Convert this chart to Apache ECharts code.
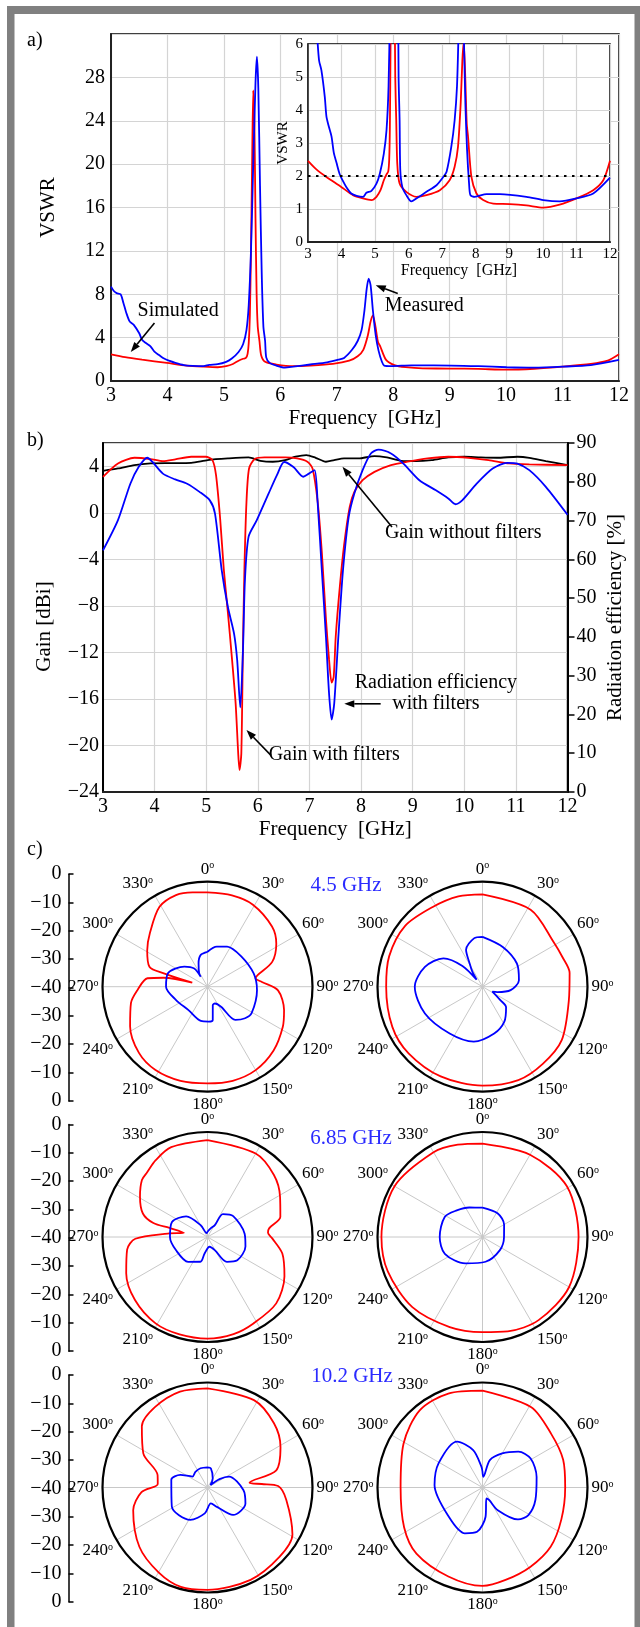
<!DOCTYPE html>
<html><head><meta charset="utf-8">
<script src="https://cdn.jsdelivr.net/npm/echarts@6.0.0/dist/echarts.min.js"></script>
<style>html,body{margin:0;padding:0;background:#fff}#c{width:640px;height:1627px}</style>
</head><body><div id="c"></div>
<script>
// ---------- a) VSWR ----------
const vswrMeasured = [[3.0,8.7],[3.05,8.3],[3.1,8.1],[3.17,8.0],[3.22,7.2],[3.27,6.3],[3.33,5.5],[3.4,5.2],[3.5,4.4],[3.55,3.8],[3.62,3.5],[3.7,3.2],[3.77,2.7],[3.85,2.4],[3.94,2.07],[4.04,1.85],[4.14,1.67],[4.29,1.47],[4.45,1.4],[4.64,1.37],[4.74,1.49],[4.89,1.55],[5.04,1.77],[5.14,2.07],[5.26,2.68],[5.34,3.39],[5.40,4.7],[5.44,7],[5.48,12],[5.52,20],[5.56,27.5],[5.585,29.9],[5.61,27],[5.64,18],[5.67,10],[5.70,5],[5.73,3.69],[5.75,2.18],[5.81,1.67],[5.93,1.42],[6.08,1.23],[6.23,1.32],[6.53,1.52],[6.83,1.72],[7.03,1.97],[7.13,2.13],[7.27,2.88],[7.37,3.69],[7.44,4.71],[7.49,6.5],[7.53,8.5],[7.565,9.45],[7.6,8.8],[7.64,6.5],[7.69,4.2],[7.74,2.8],[7.8,1.77],[7.84,1.42],[7.97,1.37],[8.32,1.45],[8.72,1.45],[9.51,1.37],[10.01,1.27],[10.5,1.23],[11.0,1.32],[11.5,1.47],[12.0,1.95]];
const vswrSimulated = [[3.0,2.46],[3.25,2.2],[3.55,1.97],[3.99,1.67],[4.34,1.42],[4.64,1.32],[4.89,1.27],[5.04,1.37],[5.16,1.57],[5.26,1.87],[5.34,2.05],[5.39,2.13],[5.42,2.5],[5.44,3.5],[5.46,6],[5.48,12],[5.5,20],[5.52,26.8],[5.54,24],[5.56,15],[5.58,8],[5.6,5],[5.63,3.69],[5.66,2.38],[5.73,1.77],[5.93,1.52],[6.23,1.37],[6.53,1.42],[6.93,1.57],[7.22,1.87],[7.37,2.28],[7.47,2.88],[7.55,4.2],[7.6,5.5],[7.64,6.05],[7.68,5.2],[7.73,3.6],[7.77,3.19],[7.87,1.97],[8.02,1.47],[8.22,1.27],[8.52,1.16],[9.01,1.15],[9.51,1.11],[10.01,1.04],[10.5,1.13],[11.0,1.32],[11.5,1.57],[11.8,1.87],[12.0,2.46]];
const vswrLimit = [[3,2],[12,2]];

// ---------- b) Gain / efficiency ----------
const gainWithFilters = [[3,3.09],[3.29,4.24],[3.61,4.73],[3.92,4.62],[4.16,4.44],[4.40,4.59],[4.71,4.82],[4.99,4.82],[5.12,4.53],[5.19,3.23],[5.27,-0.51],[5.34,-4.84],[5.42,-8.58],[5.50,-12.6],[5.57,-16.4],[5.62,-20.7],[5.645,-22.1],[5.68,-20.7],[5.71,-12.0],[5.74,-4.84],[5.78,0.93],[5.83,3.81],[5.94,4.62],[6.13,4.76],[6.53,4.76],[6.76,4.67],[6.96,4.39],[7.06,3.81],[7.16,0.93],[7.24,-3.4],[7.32,-9.16],[7.38,-12.6],[7.43,-14.6],[7.47,-14.1],[7.51,-10.6],[7.59,-6.28],[7.67,-2.82],[7.78,0.5],[7.87,1.79],[8.03,2.8],[8.26,3.52],[8.58,4.1],[8.90,4.39],[9.29,4.67],[9.69,4.82],[10.08,4.73],[10.47,4.53],[10.87,4.24],[11.26,4.16],[12,4.1]];
const gainWithoutFilters = [[3,3.61],[3.29,3.81],[3.61,4.1],[3.92,4.24],[4.32,4.27],[4.71,4.3],[5.03,4.53],[5.42,4.67],[5.82,4.76],[6.05,4.47],[6.29,4.39],[6.53,4.53],[6.73,4.82],[6.94,4.96],[7.12,4.73],[7.32,4.39],[7.48,4.53],[7.67,4.67],[7.95,4.67],[8.26,4.88],[8.5,4.76],[8.78,4.47],[9.05,4.44],[9.37,4.53],[9.69,4.76],[10.0,4.82],[10.32,4.76],[10.63,4.73],[11.03,4.82],[11.26,4.73],[11.58,4.44],[12,4.1]];
const efficiencyWithFilters = [[3.0,62.3],[3.29,70.1],[3.53,79.5],[3.69,83.8],[3.86,86.2],[3.96,85.1],[4.16,82.1],[4.40,80.6],[4.63,79.5],[4.87,77.4],[5.07,75.2],[5.17,71.8],[5.30,57.2],[5.42,47.7],[5.54,40.8],[5.60,34.0],[5.66,21.8],[5.71,35.7],[5.75,54.6],[5.82,65.8],[5.98,70.1],[6.21,77.0],[6.37,81.7],[6.51,85.1],[6.69,83.8],[6.88,81.3],[6.99,82.1],[7.10,83.0],[7.16,74.4],[7.24,57.2],[7.32,40.0],[7.38,25.4],[7.43,18.7],[7.48,22.8],[7.56,40.0],[7.65,57.2],[7.76,70.9],[7.87,77.0],[8.03,83.0],[8.19,87.3],[8.34,88.3],[8.58,87.3],[8.82,84.7],[9.13,80.4],[9.45,77.8],[9.69,75.7],[9.83,74.2],[9.96,75.2],[10.24,79.5],[10.55,83.4],[10.83,84.9],[11.03,84.7],[11.26,83.0],[11.58,78.7],[12,71.5]];

// ---------- c) Radiation patterns: [angle deg, level dB] ----------
const pattern45_left_red = [[0,-4.1],[15,-4.0],[29,-4.3],[47,-6.4],[58,-9.1],[69,-13.6],[77,-20.4],[80,-21.4],[85,-19.2],[93,-13.1],[107,-9.5],[118,-7.5],[134,-5.0],[150,-3.3],[165,-2.9],[180,-3.2],[196,-2.7],[212,-2.6],[226,-3.7],[243,-6.9],[258,-10.2],[267,-13.2],[278,-16.9],[281.6,-23],[284.8,-34],[287,-22.6],[289,-16.6],[301,-13.2],[313,-10],[329,-4.5],[341,-3.1],[351,-3.6],[360,-4.1]];
const pattern45_left_blue = [[0,-26.7],[13,-24.3],[26,-23],[48,-22.7],[74,-21.7],[94,-21.1],[121,-20.4],[130,-21.3],[140,-23.5],[146,-30.8],[156,-33],[164,-32.7],[171,-27.2],[178,-26.7],[191,-26.7],[219,-28.5],[247,-27],[270,-24.2],[289,-24.1],[311,-28.3],[324,-31.4],[326,-35.4],[328,-34],[339,-30.5],[348,-27.6],[360,-26.7]];
const pattern45_right_red = [[0,-4.8],[32,-5.4],[58,-8.0],[70,-7.5],[81,-6.4],[99,-6.7],[124,-3.6],[142,-2.7],[159,-1.9],[180,-2.3],[205,-2.3],[228,-2.1],[246,-2.4],[270,-3.3],[288,-2.6],[308,-2.5],[328,-4.2],[345,-4.4],[360,-4.8]];
const pattern45_right_blue = [[0,-21],[27,-23],[56,-24.2],[80,-25.9],[97,-29.2],[110,-34],[117,-35.8],[127,-31.5],[131,-28.1],[148,-24.3],[166,-21.6],[189,-18.8],[215,-18.2],[245,-15.8],[270,-14.2],[289,-16.8],[306,-21.6],[316,-29],[320,-36.5],[326,-33],[331,-29.9],[336,-24.6],[350,-21.3],[360,-21]];
const pattern685_left_red = [[0,-3.1],[30,-3.3],[47,-5.4],[61,-8.4],[74.5,-11.2],[82,-16.3],[86,-16.9],[91,-15.4],[102.5,-10.8],[117,-7.1],[134,-3.6],[152,-2.7],[165,-1.7],[180,-1.3],[196,-1.4],[211,-1.6],[229,-3.4],[246,-6.1],[261,-9.0],[268.6,-12.5],[275,-24.8],[280,-30.9],[283.5,-25.1],[284.5,-18.7],[290,-13.8],[301,-10],[311,-6.9],[317,-6.3],[326,-4.7],[338,-3.1],[360,-3.1]];
const pattern685_left_blue = [[0,-38],[20,-36.5],[32,-34.7],[34,-29.5],[51,-27.4],[85,-25.8],[104,-25.1],[128,-25.6],[142,-28],[151,-34.3],[168,-36.2],[190,-33.6],[196,-30.2],[218,-28],[247,-27],[270,-25.7],[293,-25.3],[314,-28.7],[330,-34.8],[350,-38.5],[360,-38]];
const pattern685_right_red = [[0,-4.4],[30,-3.8],[59,-2.5],[90,-3.4],[120,-1.9],[146,-1.8],[165,-2.8],[180,-3.8],[200,-3.5],[225,-2.2],[250,-1.6],[270,-1.5],[300,-1.3],[330,-2.7],[345,-3.6],[360,-4.4]];
const pattern685_right_blue = [[0,-28.8],[33,-29.3],[60,-30.5],[90,-31.8],[127,-31.7],[173,-30.5],[213,-28],[246,-24.3],[270,-23.7],[298,-23.7],[316,-25.9],[336,-27.7],[360,-28.8]];
const pattern102_left_red = [[0,-2.2],[28,-2.3],[46,-4.8],[61,-8.2],[76,-13],[83.5,-23.9],[86.3,-19.3],[88.8,-13.1],[99,-9.6],[119,-3],[134,-1.9],[155,-1.2],[180,-1],[195,-0.8],[210,-2.7],[229,-5.6],[253,-10.4],[266,-14.8],[274,-21],[284,-20.4],[298,-12.3],[313,-5.8],[327,-3.4],[344,-2],[360,-2.2]];
const pattern102_left_blue = [[0,-32.3],[10,-32.6],[30,-36],[50,-38.5],[55,-34.4],[63,-30.8],[94,-26.3],[113,-24.3],[137,-25.7],[154,-31.8],[168,-33.8],[186,-30.1],[208,-26],[242,-24.6],[282,-25.9],[295,-28.6],[306,-32.9],[322,-32.5],[340,-32.2],[360,-32.3]];
const pattern102_right_red = [[0,-3.1],[31,-4.2],[52,-6.8],[71,-7.5],[90,-8.5],[112,-7.6],[131,-5.6],[149,-4.7],[166,-3.7],[180,-2.5],[201,-3.7],[225,-4.4],[243,-6.5],[270,-8.8],[299,-5.6],[321,-2.1],[340,-1.9],[360,-3.1]];
const pattern102_right_blue = [[0,-34],[4,-35.9],[15,-29.2],[30,-25],[45,-20.7],[59,-18.6],[79,-19],[103,-19.3],[121,-19.6],[132,-21.8],[146,-29.6],[152,-34.5],[160,-35.6],[174,-28.8],[187,-23],[201,-21.3],[229,-23],[273,-21.7],[299,-20.9],[331,-20],[346,-25.3],[357,-32],[360,-34]];

const scaleBarTicks = ['0','\u221210','\u221220','\u221230','\u221240','\u221230','\u221220','\u221210','0'];
const rowFrequencies = ['4.5 GHz','6.85 GHz','10.2 GHz'];
const panelLabels = ['a)','b)','c)'];

// ---------- layout ----------
const SERIF = '"Liberation Serif","Times New Roman",serif';
const RED = '#ff0000', BLUE = '#0000ff';
const GRIDC = '#d4d4d4';
const neg = v => (v < 0 ? '\u2212' + Math.abs(v) : String(v));
const rowY = [986.7, 1237, 1487.5];
const colX = [207.5, 482.5];
const R = 105;

const chart = echarts.init(document.getElementById('c'), null, {renderer: 'canvas'});

const grids = [
  {left:111, top:34, width:508, height:347, show:true, borderColor:'#000', borderWidth:1.5, z:0},
  {left:308, top:44, width:302, height:198, show:true, backgroundColor:'#fff', borderColor:'#000', borderWidth:1.5, z:3},
  {left:103, top:443, width:464.5, height:349, show:true, borderColor:'#000', borderWidth:1.5, z:0}
];
rowY.forEach(y => grids.push({left:68.5, top:y-112.5, width:10, height:226.7, show:false}));
grids.forEach(g => { g.outerBoundsMode = 'none'; g.containLabel = false; });

const lbl = (fs, extra) => Object.assign({color:'#000', fontFamily:SERIF, fontSize:fs}, extra || {});
const freqAxis = (gi, fs, nfs, gap, z) => ({
  gridIndex:gi, type:'value', min:3, max:12, interval:1, z:z,
  axisLine:{show:true, onZero:false, lineStyle:{color:'#222', width:2}}, axisTick:{show:false},
  splitLine:{show:true, lineStyle:{color:GRIDC, width:1.2}},
  axisLabel:lbl(fs, {margin:5}),
  name:'Frequency  [GHz]', nameLocation:'middle', nameGap:gap, nameMoveOverlap:false,
  nameTextStyle:lbl(nfs)
});

const xAxes = [freqAxis(0,20,21,27,0), freqAxis(1,15,16,21,4), freqAxis(2,20,21,27,0)];
rowY.forEach((y,i) => xAxes.push({gridIndex:3+i, type:'value', show:false}));

const yAxes = [
  {gridIndex:0, type:'value', min:0, max:32, interval:4, z:0,
   axisLine:{show:true, onZero:false, lineStyle:{color:'#222', width:2}}, axisTick:{show:false},
   splitLine:{show:true, lineStyle:{color:GRIDC, width:1.2}},
   axisLabel:lbl(20, {margin:6, showMaxLabel:false}),
   name:'VSWR', nameLocation:'middle', nameGap:52, nameMoveOverlap:false, nameTextStyle:lbl(21)},
  {gridIndex:1, type:'value', min:0, max:6, interval:1, z:4,
   axisLine:{show:true, onZero:false, lineStyle:{color:'#222', width:1.5}}, axisTick:{show:false},
   splitLine:{show:true, lineStyle:{color:GRIDC, width:1}},
   axisLabel:lbl(15, {margin:5}),
   name:'VSWR', nameLocation:'middle', nameGap:17, nameMoveOverlap:false, nameTextStyle:lbl(15)},
  {gridIndex:2, type:'value', min:-24, max:6, interval:4, z:0,
   axisLine:{show:true, onZero:false, lineStyle:{color:'#000', width:2}}, axisTick:{show:false},
   splitLine:{show:true, lineStyle:{color:GRIDC, width:1.2}},
   axisLabel:lbl(20, {margin:4, showMaxLabel:false, formatter:neg}),
   name:'Gain [dBi]', nameLocation:'middle', nameGap:48, nameMoveOverlap:false, nameTextStyle:lbl(21, {padding:[0,0,0,-18]})},
  {gridIndex:2, type:'value', position:'right', min:0, max:90, interval:10, z:0,
   axisLine:{show:true, onZero:false, lineStyle:{color:'#000', width:2}},
   axisTick:{show:true, inside:false, length:7, lineStyle:{color:'#000', width:1.5}},
   splitLine:{show:false},
   axisLabel:lbl(20, {margin:9}),
   name:'Radiation efficiency [%]', nameLocation:'middle', nameRotate:90, nameGap:37, nameMoveOverlap:false, nameTextStyle:lbl(21)}
];
rowY.forEach((y,i) => yAxes.push({
  gridIndex:3+i, type:'category', data:scaleBarTicks, boundaryGap:false,
  axisLine:{show:true, onZero:false, lineStyle:{color:'#000', width:1.5}},
  axisTick:{show:true, inside:true, length:5, interval:0, lineStyle:{color:'#000', width:1.5}},
  splitLine:{show:false},
  axisLabel:lbl(20, {margin:7, interval:0})
}));

const polars = [], angleAxes = [], radiusAxes = [];
rowY.forEach(y => colX.forEach(x => {
  const i = polars.length;
  polars.push({center:[x, y], radius:R});
  angleAxes.push({polarIndex:i, type:'value', min:0, max:360, interval:30, startAngle:90, clockwise:true,
    axisLine:{show:true, lineStyle:{color:'#000', width:2.2}}, axisTick:{show:false},
    splitLine:{show:true, lineStyle:{color:'#c8c8c8', width:1}},
    axisLabel:{margin:4, formatter:v => v === 360 ? '' : '{n|' + v + '}{o|o}',
      rich:{n:{fontSize:17, fontFamily:SERIF, color:'#000', lineHeight:17},
            o:{fontSize:10, fontFamily:SERIF, color:'#000', lineHeight:10, verticalAlign:'top'}}}
  });
  radiusAxes.push({polarIndex:i, type:'value', min:-40, max:0,
    axisLine:{show:false}, axisTick:{show:false}, axisLabel:{show:false}, splitLine:{show:false}});
}));

const lineS = (xi, yi, data, color, z, w) => ({type:'line', xAxisIndex:xi, yAxisIndex:yi, data:data,
  showSymbol:false, smooth:0.25, z:z, lineStyle:{color:color, width:w || 1.8}, animation:false});
const patterns = [
  [pattern45_left_red, pattern45_left_blue], [pattern45_right_red, pattern45_right_blue],
  [pattern685_left_red, pattern685_left_blue], [pattern685_right_red, pattern685_right_blue],
  [pattern102_left_red, pattern102_left_blue], [pattern102_right_red, pattern102_right_blue]
];
const series = [
  lineS(0,0,vswrSimulated,RED,2), lineS(0,0,vswrMeasured,BLUE,2),
  lineS(1,1,vswrSimulated,RED,5), lineS(1,1,vswrMeasured,BLUE,5),
  {type:'line', xAxisIndex:1, yAxisIndex:1, data:vswrLimit, showSymbol:false, z:6, animation:false,
   lineStyle:{color:'#000', width:2, type:[2.5,5.5]}},
  lineS(2,2,gainWithoutFilters,'#000',2), lineS(2,2,gainWithFilters,RED,3),
  lineS(2,3,efficiencyWithFilters,BLUE,4)
];
patterns.forEach((p, i) => {
  [[p[0], RED], [p[1], BLUE]].forEach(([d, c]) => series.push({
    type:'line', coordinateSystem:'polar', polarIndex:i, data:d.map(([a, v]) => [v, a]),
    showSymbol:false, smooth:0.3, animation:false, lineStyle:{color:c, width:1.8}, z:3
  }));
});

chart.setOption({
  animation:false, backgroundColor:'#fff',
  grid:grids, xAxis:xAxes, yAxis:yAxes, polar:polars, angleAxis:angleAxes, radiusAxis:radiusAxes,
  series:series
});

// ---------- annotations (anchored in data coordinates) ----------
const annA = {grid:{xAxisIndex:0, yAxisIndex:0},
  texts:[['Simulated',[4.19,6.5]],['Measured',[8.55,6.9]]],
  arrows:[[[3.77,5.35],[3.35,2.67]],[[8.08,8.07],[7.69,8.82]]]};
const annB = {grid:{xAxisIndex:2, yAxisIndex:2},
  texts:[['Gain without filters',[9.98,-1.75]],['Radiation efficiency\nwith filters',[9.45,-15.47]],['Gain with filters',[7.48,-20.83]]],
  arrows:[[[8.60,-1.23],[7.64,3.95]],[[8.38,-16.42],[7.675,-16.42]],[[6.25,-20.83],[5.78,-18.67]]]};

function arrowEls(p, q) {
  const ang = Math.atan2(q[1]-p[1], q[0]-p[0]);
  const L = 10, W = 3.6;
  const bx = q[0]-L*Math.cos(ang), by = q[1]-L*Math.sin(ang);
  const nx = -Math.sin(ang)*W, ny = Math.cos(ang)*W;
  return [
    {type:'line', shape:{x1:p[0], y1:p[1], x2:bx, y2:by}, style:{stroke:'#000', lineWidth:1.6}, z:20},
    {type:'polygon', shape:{points:[[q[0],q[1]],[bx+nx,by+ny],[bx-nx,by-ny]]}, style:{fill:'#000'}, z:20}
  ];
}
function textEl(t, x, y, fs, color, align) {
  return {type:'text', x:x, y:y, z:20, style:{text:t, fill:color || '#000', font:fs + 'px ' + SERIF,
    align:align || 'center', verticalAlign:'middle', textAlign:align || 'center', textVerticalAlign:'middle', lineHeight:fs + 1}};
}
const g = [];
[annA, annB].forEach(a => {
  a.texts.forEach(([t, c]) => { const p = chart.convertToPixel(a.grid, c); g.push(textEl(t, p[0], p[1], 20)); });
  a.arrows.forEach(([s, e]) => g.push(...arrowEls(chart.convertToPixel(a.grid, s), chart.convertToPixel(a.grid, e))));
});
// frame
g.push({type:'rect', shape:{x:7, y:6, width:633, height:8}, style:{fill:'#808080'}, z:30});
g.push({type:'rect', shape:{x:7, y:6, width:7.5, height:1621}, style:{fill:'#808080'}, z:30});
g.push({type:'rect', shape:{x:634.5, y:6, width:5.5, height:1621}, style:{fill:'#808080'}, z:30});
// panel letters
const letterY = [41, 441, 850];
panelLabels.forEach((t, i) => g.push(textEl(t, 27, letterY[i], 20, '#000', 'left')));
// row frequency labels
const freqLblPos = [[346, 885], [351, 1138], [352, 1376]];
rowFrequencies.forEach((t, i) => g.push(textEl(t, freqLblPos[i][0], freqLblPos[i][1], 21, '#2b2bff')));
chart.setOption({graphic:g});
</script></body></html>
